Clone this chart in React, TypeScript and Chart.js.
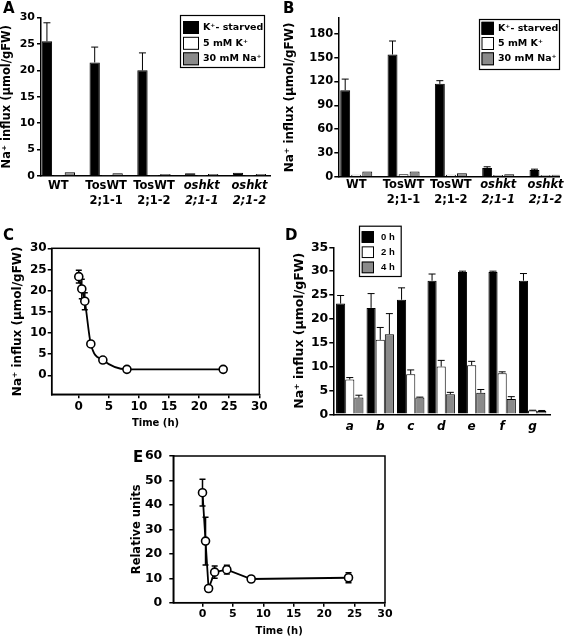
import React, { useEffect, useRef } from "react";
import { Chart, registerables } from "chart.js";
Chart.register(...registerables);

const SANS = "'DejaVu Sans', 'Liberation Sans', sans-serif";
const ARIAL = "'Liberation Sans', Arial, 'DejaVu Sans', sans-serif";

// ---------------- data ----------------
const seriesNamesAB = ["K⁺- starved", "5 mM K⁺", "30 mM Na⁺"];
const strainLabels = [["WT"], ["TosWT", "2;1-1"], ["TosWT", "2;1-2"], ["oshkt", "2;1-1"], ["oshkt", "2;1-2"]];
const strainItalic = [false, false, false, true, true];

const aStarved = [25.5, 21.5, 20.0, 0.5, 0.6];
const aStarvedErr = [3.5, 2.9, 3.3, 0, 0];
const a5mMK = [0.2, 0.2, 0.2, 0.2, 0.2];
const a30mMNa = [0.7, 0.5, 0.4, 0.4, 0.4];

const bStarved = [109, 154, 117, 11, 8.5];
const bStarvedErr = [14, 17, 4, 1.5, 1];
const b5mMK = [2.5, 3, 2.5, 2, 2];
const b30mMNa = [6.5, 6.5, 4.5, 3, 2.5];

const cTime = [0, 0.5, 1, 2, 4, 8, 24];
const cInflux = [23.3, 20.4, 17.5, 7.4, 3.6, 1.4, 1.4];
const cErr = [1.5, 2.3, 2.0, 0.3, 0.3, 0.2, 0.2];

const dLabels = ["a", "b", "c", "d", "e", "f", "g"];
const dSeriesNames = ["0 h", "2 h", "4 h"];
const d0h = [23.2, 22.3, 24.0, 28.0, 29.8, 29.8, 28.0];
const d0hErr = [1.7, 3.0, 2.5, 1.4, 0.2, 0.2, 1.5];
const d2h = [7.3, 15.6, 8.4, 10.0, 10.3, 8.6, 0.8];
const d2hErr = [0.4, 2.6, 0.9, 1.3, 0.8, 0.3, 0.05];
const d4h = [3.5, 16.8, 3.5, 4.2, 4.5, 3.2, 0.7];
const d4hErr = [0.5, 4.3, 0.1, 0.4, 0.7, 0.5, 0.1];

const eTime = [0, 0.5, 1, 2, 4, 8, 24];
const eRelative = [45, 25.2, 5.8, 12.5, 13.5, 9.7, 10.2];
const eErr = [5.5, 9.8, 0.8, 2.5, 1.8, 1.0, 2.0];

const barColors = ["#000000", "#ffffff", "#8a8a8a"];
const naTitle = "Na⁺ influx (µmol/gFW)";

// ---------------- plugins ----------------
function errorBarsPlugin(mode: "up" | "both", cap: number, width: number) {
  const draw = (chart: any) => {
    const ctx = chart.ctx;
    const yScale = chart.scales.y;
    chart.data.datasets.forEach((ds: any, di: number) => {
      const errs: number[] | undefined = ds.errors;
      if (!errs) return;
      const meta = chart.getDatasetMeta(di);
      meta.data.forEach((el: any, i: number) => {
        const e = errs[i];
        if (!e) return;
        const raw = ds.data[i];
        const v = typeof raw === "number" ? raw : raw.y;
        const x = el.x;
        const yTop = yScale.getPixelForValue(v + e);
        const yBot = mode === "both" ? yScale.getPixelForValue(v - e) : el.y;
        ctx.save();
        ctx.strokeStyle = "#000";
        ctx.lineWidth = width;
        ctx.beginPath();
        ctx.moveTo(x, yBot);
        ctx.lineTo(x, yTop);
        ctx.moveTo(x - cap / 2, yTop);
        ctx.lineTo(x + cap / 2, yTop);
        if (mode === "both") {
          ctx.moveTo(x - cap / 2, yBot);
          ctx.lineTo(x + cap / 2, yBot);
        }
        ctx.stroke();
        ctx.restore();
      });
    });
  };
  return mode === "up"
    ? { id: "errorBars", afterDatasetsDraw: draw }
    : { id: "errorBars", beforeDatasetsDraw: draw };
}

type LegendLayout = {
  x: number; y: number; w: number; h: number;
  swX: number; swW: number; swH: number; textX: number; rows: number[]; font: string;
};
function boxLegendPlugin(L: LegendLayout) {
  return {
    id: "boxLegend",
    afterDraw(chart: any) {
      const ctx = chart.ctx;
      ctx.save();
      ctx.fillStyle = "#fff";
      ctx.fillRect(L.x, L.y, L.w, L.h);
      ctx.strokeStyle = "#000";
      ctx.lineWidth = 1.2;
      ctx.strokeRect(L.x + 0.5, L.y + 0.5, L.w, L.h);
      chart.data.datasets.forEach((ds: any, i: number) => {
        const cy = L.rows[i];
        ctx.fillStyle = ds.backgroundColor;
        ctx.fillRect(L.swX, cy - L.swH / 2, L.swW, L.swH);
        ctx.lineWidth = 1;
        ctx.strokeRect(L.swX + 0.5, cy - L.swH / 2 + 0.5, L.swW - 1, L.swH - 1);
        ctx.fillStyle = "#000";
        ctx.font = L.font;
        ctx.textBaseline = "middle";
        ctx.textAlign = "left";
        ctx.fillText(ds.label, L.textX, cy);
      });
      ctx.restore();
    },
  };
}

const framePlugin = {
  id: "frame",
  afterDatasetsDraw(chart: any) {
    const { left, top, right, bottom } = chart.chartArea;
    const ctx = chart.ctx;
    ctx.save();
    ctx.strokeStyle = "#000";
    ctx.lineWidth = 1.5;
    ctx.strokeRect(left, top, right - left, bottom - top);
    ctx.restore();
  },
};

// ---------------- config builders ----------------
const axisGrid = () => ({
  display: true,
  drawOnChartArea: false,
  drawTicks: true,
  tickLength: 4,
  color: "#000",
  lineWidth: 1.5,
});
const axisBorder = { display: true, color: "#000", width: 1.5 };

type BarSpec = {
  names: string[];
  series: number[][];
  errors: (number[] | null)[];
  labels: string[][];
  italic: boolean[];
  xMin: number; xMax: number;
  yMax: number; yStep: number;
  yW: number; xH: number;
  pad: { top: number; right: number };
  yTitleSize: number; yTitlePad: number; yTickSize: number; yTickPad: number;
  xTickSize: number; xTickPad: number; xLineHeight: number;
  catPct: number; barPct: number;
  legend: LegendLayout;
};

function barConfig(s: BarSpec): any {
  return {
    type: "bar",
    data: {
      datasets: s.series.map((vals, k) => ({
        label: s.names[k],
        data: vals.map((y, i) => ({ x: i, y })),
        errors: s.errors[k],
        backgroundColor: barColors[k],
        borderColor: "#000",
        borderWidth: 1,
        categoryPercentage: s.catPct,
        barPercentage: s.barPct,
      })),
    },
    options: {
      animation: false,
      responsive: false,
      layout: { padding: { left: 0, top: s.pad.top, right: s.pad.right, bottom: 0 } },
      plugins: { legend: { display: false }, tooltip: { enabled: false } },
      scales: {
        x: {
          type: "linear",
          offset: false,
          min: s.xMin,
          max: s.xMax,
          grid: { display: false, drawTicks: false, tickLength: 0, offset: false },
          border: axisBorder,
          ticks: {
            stepSize: 1,
            includeBounds: false,
            autoSkip: false,
            maxRotation: 0,
            padding: s.xTickPad,
            color: "#000",
            callback: (v: number) => (Number.isInteger(v) && s.labels[v] ? s.labels[v] : null),
            font: (ctx: any) => ({
              family: SANS,
              size: s.xTickSize,
              weight: "bold",
              lineHeight: s.xLineHeight,
              style: ctx.tick && s.italic[ctx.tick.value] ? "italic" : "normal",
            }),
          },
          afterFit: (sc: any) => { sc.height = s.xH; },
        },
        y: {
          min: 0,
          max: s.yMax,
          grid: axisGrid(),
          border: axisBorder,
          ticks: {
            stepSize: s.yStep,
            includeBounds: false,
            color: "#000",
            padding: s.yTickPad,
            font: { family: SANS, size: s.yTickSize, weight: "bold" },
          },
          title: {
            display: true,
            text: naTitle,
            color: "#000",
            font: { family: SANS, size: s.yTitleSize, weight: "bold", lineHeight: 1.2 },
            padding: { top: s.yTitlePad, bottom: 0 },
          },
          afterFit: (sc: any) => { sc.width = s.yW; },
        },
      },
    },
    plugins: [errorBarsPlugin("up", 7, 1), boxLegendPlugin(s.legend)],
  };
}

type LineSpec = {
  xs: number[]; ys: number[]; errs: number[];
  smooth: boolean;
  xMin: number; xMax: number; yMin: number; yMax: number; yStep: number;
  yW: number; xH: number; pad: { top: number; right: number };
  yTitle: string; yTitleSize: number; yTitlePad: number; yTickSize: number; yTickPad: number;
  xTickSize: number; xTickPad: number; xTitleSize: number; xTitlePad: number;
};

function lineConfig(s: LineSpec): any {
  return {
    type: "line",
    data: {
      datasets: [
        {
          data: s.xs.map((x, i) => ({ x, y: s.ys[i] })),
          errors: s.errs,
          borderColor: "#000",
          borderWidth: 1.8,
          pointRadius: 4,
          pointBorderWidth: 1.6,
          pointBackgroundColor: "#fff",
          pointBorderColor: "#000",
          cubicInterpolationMode: s.smooth ? "monotone" : "default",
          tension: 0,
          fill: false,
        },
      ],
    },
    options: {
      animation: false,
      responsive: false,
      layout: { padding: { left: 0, top: s.pad.top, right: s.pad.right, bottom: 0 } },
      plugins: { legend: { display: false }, tooltip: { enabled: false } },
      scales: {
        x: {
          type: "linear",
          min: s.xMin,
          max: s.xMax,
          grid: axisGrid(),
          border: axisBorder,
          ticks: {
            stepSize: 5,
            includeBounds: false,
            maxRotation: 0,
            color: "#000",
            padding: s.xTickPad,
            font: { family: SANS, size: s.xTickSize, weight: "bold" },
          },
          title: {
            display: true,
            text: "Time (h)",
            color: "#000",
            font: { family: SANS, size: s.xTitleSize, weight: "bold", lineHeight: 1.2 },
            padding: { top: 0, bottom: s.xTitlePad },
          },
          afterFit: (sc: any) => { sc.height = s.xH; },
        },
        y: {
          type: "linear",
          min: s.yMin,
          max: s.yMax,
          grid: axisGrid(),
          border: axisBorder,
          ticks: {
            stepSize: s.yStep,
            includeBounds: false,
            color: "#000",
            padding: s.yTickPad,
            font: { family: SANS, size: s.yTickSize, weight: "bold" },
          },
          title: {
            display: true,
            text: s.yTitle,
            color: "#000",
            font: { family: SANS, size: s.yTitleSize, weight: "bold", lineHeight: 1.2 },
            padding: { top: s.yTitlePad, bottom: 0 },
          },
          afterFit: (sc: any) => { sc.width = s.yW; },
        },
      },
    },
    plugins: [errorBarsPlugin("both", 6, 1.5), framePlugin],
  };
}

// ---------------- panels ----------------
const buildA = () =>
  barConfig({
    names: seriesNamesAB,
    series: [aStarved, a5mMK, a30mMNa],
    errors: [aStarvedErr, null, null],
    labels: strainLabels,
    italic: strainItalic,
    xMin: -0.364, xMax: 4.43,
    yMax: 30, yStep: 5,
    yW: 41, xH: 34,
    pad: { top: 17.5, right: 12 },
    yTitleSize: 11.5, yTitlePad: 0, yTickSize: 11, yTickPad: 2,
    xTickSize: 11.5, xTickPad: 2.5, xLineHeight: 1.3,
    catPct: 0.72, barPct: 0.9,
    legend: { x: 180, y: 15, w: 84, h: 52, swX: 183, swW: 16, swH: 13, textX: 203, rows: [27.5, 43.3, 58.8], font: `bold 9.5px ${SANS}` },
  });

const buildB = () =>
  barConfig({
    names: seriesNamesAB,
    series: [bStarved, b5mMK, b30mMNa],
    errors: [bStarvedErr, null, null],
    labels: strainLabels,
    italic: strainItalic,
    xMin: -0.379, xMax: 4.3,
    yMax: 200, yStep: 30,
    yW: 56.3, xH: 33.3,
    pad: { top: 18, right: 2 },
    yTitleSize: 12, yTitlePad: 0.8, yTickSize: 11.5, yTickPad: 1,
    xTickSize: 11.5, xTickPad: 1.3, xLineHeight: 1.3,
    catPct: 0.7, barPct: 0.9,
    legend: { x: 197, y: 19, w: 80, h: 50, swX: 199.5, swW: 12.5, swH: 13, textX: 216, rows: [28.3, 43.5, 58.8], font: `bold 9.5px ${SANS}` },
  });

const buildC = () =>
  lineConfig({
    xs: cTime, ys: cInflux, errs: cErr, smooth: true,
    xMin: -4.5, xMax: 30, yMin: -4.5, yMax: 30, yStep: 5,
    yW: 51.7, xH: 35.7, pad: { top: 33.3, right: 22.7 },
    yTitle: naTitle, yTitleSize: 12, yTitlePad: 10.3, yTickSize: 12, yTickPad: 1,
    xTickSize: 12, xTickPad: 1.2, xTitleSize: 10, xTitlePad: 0.7,
  });

const buildD = () =>
  barConfig({
    names: dSeriesNames,
    series: [d0h, d2h, d4h],
    errors: [d0hErr, d2hErr, d4hErr],
    labels: dLabels.map((l) => [l]),
    italic: dLabels.map(() => true),
    xMin: -0.54, xMax: 6.57,
    yMax: 35, yStep: 5,
    yW: 51.3, xH: 22.7,
    pad: { top: 32.3, right: 15 },
    yTitleSize: 12.5, yTitlePad: 10.5, yTickSize: 12.5, yTickPad: 1,
    xTickSize: 12, xTickPad: 5, xLineHeight: 1.2,
    catPct: 0.9, barPct: 1,
    legend: { x: 77, y: 10.7, w: 41.7, h: 50.3, swX: 79.7, swW: 12.3, swH: 11.7, textX: 99, rows: [22, 37.2, 52.4], font: `bold 9.5px ${ARIAL}` },
  });

const buildE = () =>
  lineConfig({
    xs: eTime, ys: eRelative, errs: eErr, smooth: false,
    xMin: -4.8, xMax: 30, yMin: 0, yMax: 60, yStep: 10,
    yW: 53.3, xH: 36.3, pad: { top: 16, right: 15 },
    yTitle: "Relative units", yTitleSize: 11.5, yTitlePad: 10.6, yTickSize: 12.5, yTickPad: 7,
    xTickSize: 11, xTickPad: 0.7, xTitleSize: 10, xTitlePad: 2,
  });

type Box = { l: number; t: number; w: number; h: number };

function Panel({ box, build }: { box: Box; build: () => any }) {
  const ref = useRef<HTMLCanvasElement | null>(null);
  useEffect(() => {
    const chart = new Chart(ref.current as HTMLCanvasElement, build());
    return () => chart.destroy();
  }, []);
  return (
    <div style={{ position: "absolute", left: box.l, top: box.t, width: box.w, height: box.h }}>
      <canvas ref={ref} width={box.w} height={box.h} style={{ width: box.w, height: box.h, display: "block" }} />
    </div>
  );
}

const letterStyle = (l: number, t: number): React.CSSProperties => ({
  position: "absolute",
  left: l,
  top: t,
  font: `bold 15px ${SANS}`,
  lineHeight: "1",
  color: "#000",
});

export default function App() {
  return (
    <div style={{ position: "absolute", left: 0, top: 0, width: 565, height: 639, background: "#fff", overflow: "hidden" }}>
      <Panel box={{ l: 0, t: 0, w: 282, h: 210 }} build={buildA} />
      <Panel box={{ l: 282, t: 0, w: 283, h: 210 }} build={buildB} />
      <Panel box={{ l: 0, t: 215, w: 282, h: 215 }} build={buildC} />
      <Panel box={{ l: 282, t: 215, w: 283, h: 222 }} build={buildD} />
      <Panel box={{ l: 120, t: 440, w: 280, h: 199 }} build={buildE} />
      <div style={letterStyle(3, 1)}>A</div>
      <div style={letterStyle(283, 1)}>B</div>
      <div style={letterStyle(3, 228)}>C</div>
      <div style={letterStyle(285, 228)}>D</div>
      <div style={letterStyle(133, 450)}>E</div>
    </div>
  );
}
